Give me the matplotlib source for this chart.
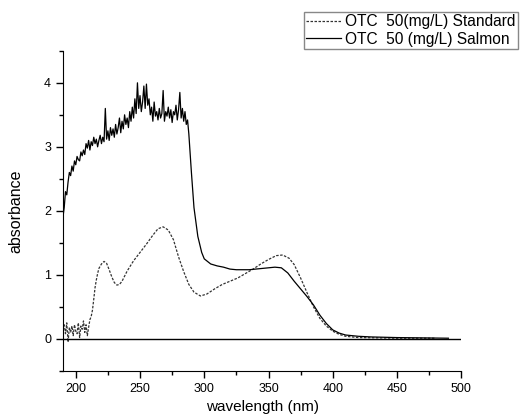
import matplotlib
matplotlib.use('Agg')
import matplotlib.pyplot as plt
from matplotlib.ticker import MultipleLocator

plt.rcParams['font.family'] = ['Liberation Sans', 'DejaVu Sans']

# salmon sample, noisy part 190-288 nm at 1 nm steps, then the smooth tail
salmon_wl = list(range(190, 289)) + [290, 292, 295, 298, 300, 305, 310, 315, 320, 325,
                                     330, 335, 340, 345, 350, 355, 360, 365, 370, 375,
                                     380, 385, 390, 395, 400, 405, 410, 420, 430, 450,
                                     470, 490]
salmon_abs = [1.90, 2.05, 2.30, 2.25, 2.45, 2.60, 2.55, 2.70, 2.62, 2.78, 2.72,
              2.85, 2.80, 2.78, 2.92, 2.86, 2.95, 2.88, 3.05, 2.98, 3.10,
              2.95, 3.08, 3.02, 3.15, 3.05, 3.12, 3.00, 3.10, 3.18, 3.05,
              3.15, 3.08, 3.60, 3.12, 3.25, 3.10, 3.30, 3.18, 3.28, 3.15,
              3.35, 3.20, 3.30, 3.45, 3.22, 3.40, 3.28, 3.50, 3.35, 3.45,
              3.30, 3.55, 3.40, 3.62, 3.45, 3.75, 3.52, 4.00, 3.60, 3.80,
              3.55, 3.70, 3.95, 3.60, 3.98, 3.65, 3.75, 3.50, 3.62, 3.40,
              3.70, 3.48, 3.55, 3.42, 3.60, 3.45, 3.52, 3.88, 3.40, 3.55,
              3.48, 3.62, 3.45, 3.58, 3.38, 3.55, 3.50, 3.65, 3.42, 3.58,
              3.85, 3.45, 3.60, 3.40, 3.55, 3.35, 3.42, 3.20,
              2.60, 2.05, 1.60, 1.35, 1.25, 1.17, 1.14, 1.12, 1.09, 1.08,
              1.08, 1.08, 1.09, 1.10, 1.11, 1.12, 1.11, 1.03, 0.90, 0.78,
              0.66, 0.53, 0.37, 0.24, 0.14, 0.09, 0.06, 0.04, 0.03, 0.02,
              0.015, 0.01]

# standard solution
std_wl = list(range(190, 212)) + [212, 213, 214, 215, 216, 217, 218, 220, 222, 224,
                                  226, 228, 230, 232, 234, 236, 238, 240, 245, 250,
                                  255, 260, 264, 268, 272, 276, 280, 284, 288, 292,
                                  297, 302, 308, 314, 320, 326, 332, 338, 344, 350,
                                  356, 361, 366, 370, 375, 380, 385, 390, 395, 400,
                                  405, 410, 420, 450, 480]
std_abs = [0.15, 0.22, 0.08, 0.25, -0.05, 0.18, 0.10, 0.20, 0.05, 0.22, 0.12,
           0.08, 0.25, 0.02, 0.20, 0.15, 0.28, 0.10, 0.22, 0.05, 0.18, 0.30,
           0.35, 0.45, 0.62, 0.80, 0.92, 1.02, 1.10, 1.17, 1.21, 1.18,
           1.08, 0.97, 0.88, 0.84, 0.85, 0.90, 0.98, 1.06, 1.22, 1.35,
           1.48, 1.62, 1.72, 1.75, 1.70, 1.55, 1.28, 1.05, 0.85, 0.73,
           0.67, 0.70, 0.78, 0.85, 0.90, 0.95, 1.02, 1.09, 1.17, 1.24,
           1.30, 1.31, 1.26, 1.16, 0.95, 0.72, 0.50, 0.32, 0.20, 0.12,
           0.07, 0.04, 0.02, 0.01, 0.01]

fig = plt.figure(figsize=(5.2, 4.2), dpi=100)
ax = fig.add_axes([0.121, 0.117, 0.766, 0.762])

ax.plot(std_wl, std_abs, color='#333333', lw=0.9, linestyle=(0, (2, 1.2)),
        label='OTC  50(mg/L) Standard')
ax.plot(salmon_wl, salmon_abs, color='black', lw=0.9,
        label='OTC  50 (mg/L) Salmon')
ax.axhline(0, color='black', lw=1)

ax.set_xlim(190, 500)
ax.set_ylim(-0.5, 4.5)
ax.xaxis.set_major_locator(MultipleLocator(50))
ax.xaxis.set_minor_locator(MultipleLocator(25))
ax.yaxis.set_major_locator(MultipleLocator(1))
ax.yaxis.set_minor_locator(MultipleLocator(0.5))
ax.tick_params(which='major', direction='out', length=5, width=1, labelsize=9)
ax.tick_params(which='minor', direction='out', length=3, width=1)
ax.spines['top'].set_visible(False)
ax.spines['right'].set_visible(False)

ax.set_xlabel('wavelength (nm)', fontsize=11)
ax.set_ylabel('absorbance', fontsize=11.5)
ax.yaxis.set_label_coords(-0.1, 0.5)

fig.legend(loc='upper right', bbox_to_anchor=(518 / 520, 1 - 12 / 420),
           fontsize=11.2, fancybox=False, edgecolor='#888888', framealpha=1,
           handlelength=2.2, handletextpad=0.3, borderpad=0.15,
           labelspacing=0.15, borderaxespad=0)

fig.savefig('out.png', dpi=100)
